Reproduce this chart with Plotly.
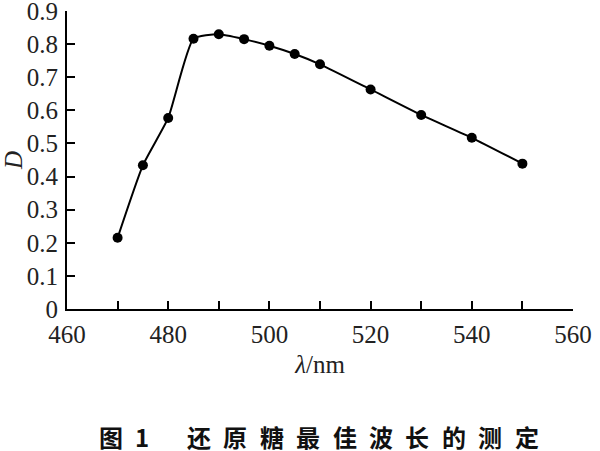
import plotly.graph_objects as go

wavelength = [470, 475, 480, 485, 490, 495, 500, 505, 510, 520, 530, 540, 550]
absorbance = [0.215, 0.434, 0.577, 0.816, 0.830, 0.815, 0.795, 0.770, 0.739, 0.663, 0.586, 0.517, 0.439]
y_ticks = [0, 0.1, 0.2, 0.3, 0.4, 0.5, 0.6, 0.7, 0.8, 0.9]
y_tick_text = ["0", "0.1", "0.2", "0.3", "0.4", "0.5", "0.6", "0.7", "0.8", "0.9"]

x_title = "<i>λ</i>/nm"
y_title = "<i>D</i>"
caption_head = ["图", "1"]
caption_body = "还原糖最佳波长的测定"

W, H = 600, 451
L, T, R, B = 67, 11, 27, 142
pw = W - L - R
ph = H - T - B

fig = go.Figure()
fig.add_trace(go.Scatter(
    x=wavelength, y=absorbance, mode="lines+markers",
    line=dict(color="black", width=2, shape="spline", smoothing=0.5),
    marker=dict(color="black", size=10),
    showlegend=False, cliponaxis=False,
))

serif = "Liberation Serif"
tf = dict(family=serif, size=25, color="#222")
fig.update_layout(
    width=W, height=H,
    margin=dict(l=L, r=R, t=T, b=B, autoexpand=False),
    paper_bgcolor="white", plot_bgcolor="white",
    font=tf,
    xaxis=dict(
        range=[460, 560], dtick=20, tick0=460,
        ticks="inside", ticklen=8, tickwidth=2, tickcolor="black",
        minor=dict(dtick=10, ticks="inside", ticklen=8, tickwidth=2, tickcolor="black"),
        showline=True, linecolor="black", linewidth=2,
        showgrid=False, zeroline=False, automargin=False,
        tickfont=tf, ticklabelstandoff=2, ticklabeloverflow="allow",
        title=dict(text=x_title, font=tf, standoff=8),
    ),
    yaxis=dict(
        range=[0, 0.9], tickvals=y_ticks, ticktext=y_tick_text,
        ticks="inside", ticklen=8, tickwidth=2, tickcolor="black",
        showline=True, linecolor="black", linewidth=2,
        showgrid=False, zeroline=False, automargin=False,
        tickfont=tf, ticklabelstandoff=2, ticklabeloverflow="allow",
        title=dict(text=y_title, font=tf, standoff=12),
    ),
)

cap_y = (H - B - 436) / ph
cjk = dict(family="Noto Sans CJK SC", size=24, color="#111", weight="bold")
for ch, px in zip(caption_head, [110.5, 142]):
    fig.add_annotation(x=(px - L) / pw, y=cap_y, xref="paper", yref="paper",
                       text=ch, showarrow=False, font=cjk, xanchor="center", yanchor="middle")
for i, ch in enumerate(caption_body):
    px = 199 + i * 36.4
    fig.add_annotation(x=(px - L) / pw, y=cap_y, xref="paper", yref="paper",
                       text=ch, showarrow=False, font=cjk, xanchor="center", yanchor="middle")

fig.write_html("out.html", config={"displayModeBar": False},
               post_script="document.body.style.margin='0';")
